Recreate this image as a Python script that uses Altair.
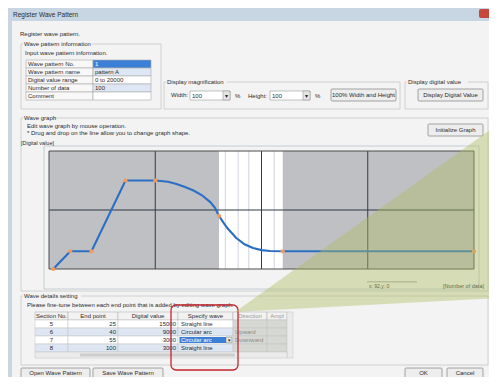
import altair as alt
import pandas as pd

# ---------------- data ----------------
wave_x = [1, 5, 10, 18, 25, 28, 30, 32, 34, 36, 38, 39, 40, 41, 42, 44, 46, 48, 50, 52, 55, 100]
wave_y = [0, 3000, 3000, 15000, 15000, 14800, 14400, 13900, 13300, 12500, 11300, 10400, 9000,
          7900, 6900, 5300, 4200, 3550, 3200, 3050, 3000, 3000]
node_x = [1, 5, 10, 18, 25, 40, 55, 100]
node_y = [0, 3000, 3000, 15000, 15000, 9000, 3000, 3000]
x_ticks = [0, 25, 50, 75, 100]
y_ticks = [0, 10000, 20000]
grid_x = [25, 50, 75]
grid_y = [10000]
band_start = [40]
band_end = [55]
band_stripes = [41.5, 44.5, 47, 53]

info_labels = ["Wave pattern No.", "Wave pattern name", "Digital value range", "Number of data", "Comment"]
info_values = ["1", "pattern A", "0 to 20000", "100", ""]

table_headers = ["Section No.", "End point", "Digital value", "Specify wave", "Direction", "Ampl"]
section_no = [5, 6, 7, 8]
end_point = [25, 40, 55, 100]
digital_value = [15000, 9000, 3000, 3000]
specify_wave = ["Straight line", "Circular arc", "Circular arc", "Straight line"]
direction = ["", "Upward", "Downward", ""]

# ---------------- layout helpers ----------------
FONT = "Liberation Sans"
OX, OY = 49, 151          # page position of the plot area's top-left corner
W, H = 425, 118
PANEL = "#f3f3f3"
one = alt.Data(values=[{"k": 1}])
deco = []


def box(x0, y0, x1, y1, fill=None, stroke=None, sw=1.0, r=0, op=1.0):
    kw = {"cornerRadius": r, "opacity": op}
    if fill is None:
        kw["fill"] = "#ffffff"
        kw["fillOpacity"] = 0
    else:
        kw["fill"] = fill
    if stroke:
        kw["stroke"] = stroke
        kw["strokeWidth"] = sw
    else:
        kw["strokeWidth"] = 0
    return alt.Chart(one).mark_rect(**kw).encode(
        x=alt.value(x0 - OX), x2=alt.value(x1 - OX),
        y=alt.value(y0 - OY), y2=alt.value(y1 - OY))


def txt(s, x, y, size=6, color="#2b2b2b", align="left", weight="normal"):
    return alt.Chart(one).mark_text(
        text=s, font=FONT, fontSize=size, color=color, align=align,
        baseline="middle", fontWeight=weight).encode(
        x=alt.value(x - OX), y=alt.value(y - OY))


def group(x0, y0, x1, y1, label):
    return [box(x0, y0, x1, y1, stroke="#c6c6c6", sw=0.8),
            box(x0 + 2, y0 - 3, x0 + 5 + len(label) * 2.75, y0 + 3, fill=PANEL),
            txt(label, x0 + 3, y0)]


def button(x0, y0, x1, y1, label):
    return [box(x0, y0, x1, y1, fill="#ededed", stroke="#8e8e8e", sw=0.8, r=1),
            txt(label, (x0 + x1) / 2, (y0 + y1) / 2, align="center")]


# dialog body and title bar
deco.append(box(12, 21, 497, 385, fill=PANEL))
deco.append(box(8, 8, 497, 21, fill="#c8d6e3"))
deco.append(box(479, 9, 497, 18, fill="#c9463d", r=2))
deco.append(txt("Register Wave Pattern", 13, 14.5, size=6.5))
deco.append(txt("Register wave pattern.", 20, 34))

# wave pattern information
deco += group(21, 44, 161, 109, "Wave pattern information")
deco.append(txt("Input wave pattern information.", 25, 53))
value_fills = ["#3b7fd6", "#dde7f4", "#ffffff", "#dde7f4", "#ffffff"]
for i, (lab, val) in enumerate(zip(info_labels, info_values)):
    y0 = 60 + 8 * i
    deco.append(box(26, y0, 93, y0 + 8, fill="#f8f8f8", stroke="#a8a8a8", sw=0.6))
    deco.append(box(93, y0, 151, y0 + 8, fill=value_fills[i], stroke="#a8a8a8", sw=0.6))
    deco.append(txt(lab, 28, y0 + 4))
    if val:
        deco.append(txt(val, 95, y0 + 4, color="#ffffff" if i == 0 else "#2b2b2b"))

# display magnification
deco += group(164, 82, 400, 109, "Display magnification")
deco.append(txt("Width:", 171, 95))
deco.append(box(190, 91, 230, 100, fill="#ffffff", stroke="#9a9a9a", sw=0.6))
deco.append(box(223, 91, 230, 100, fill="#e4e4e4", stroke="#9a9a9a", sw=0.6))
deco.append(txt("▾", 226.5, 95.5, align="center", size=6))
deco.append(txt("100", 192, 95.5))
deco.append(txt("%", 235, 95.5))
deco.append(txt("Height:", 248, 95.5))
deco.append(box(270, 91, 310, 100, fill="#ffffff", stroke="#9a9a9a", sw=0.6))
deco.append(box(303, 91, 310, 100, fill="#e4e4e4", stroke="#9a9a9a", sw=0.6))
deco.append(txt("▾", 306.5, 95.5, align="center", size=6))
deco.append(txt("100", 272, 95.5))
deco.append(txt("%", 315, 95.5))
deco += button(331, 89, 396, 101, "100% Width and Height")

# display digital value
deco += group(405, 82, 488, 109, "Display digital value")
deco += button(418, 89, 483, 101, "Display Digital Value")

# wave graph group
deco += group(21, 118, 488, 291, "Wave graph")
deco.append(txt("Edit wave graph by mouse operation.", 27, 126))
deco.append(txt("* Drug and drop on the line allow you to change graph shape.", 27, 133))
deco += button(428, 124, 483, 136, "Initialize Graph")
deco.append(box(44, 146, 479, 289, stroke="#b7c3cc", sw=0.8))
deco.append(txt("[Digital value]", 21, 143, size=5.5))
deco.append(txt("[Number of data]", 443, 286, size=5.5))
deco.append(box(367, 281.5, 417, 282.3, fill="#8a8a8a"))
deco.append(txt("x:    92.y:    0", 369, 286, size=5))

# wave details setting
deco += group(21, 296, 488, 365, "Wave details setting")
deco.append(txt("Please fine-tune between each end point that is added by editing wave graph.", 27, 305))
cols = [35, 68, 118, 178, 233, 267, 287]
for j, head in enumerate(table_headers):
    deco.append(box(cols[j], 312, cols[j + 1], 320, fill="#f2f2f2", stroke="#b5b5b5", sw=0.6))
    deco.append(txt(head, (cols[j] + cols[j + 1]) / 2, 316, align="center",
                    color="#999999" if j >= 4 else "#2b2b2b"))
row_fills = ["#ffffff", "#dde6f2", "#ffffff", "#dde6f2"]
for i in range(len(section_no)):
    y0 = 320 + 8 * i
    for j in range(6):
        f = "#d6d9d3" if j >= 4 else row_fills[i]
        deco.append(box(cols[j], y0, cols[j + 1], y0 + 8, fill=f, stroke="#c0c0c0", sw=0.5))
    deco.append(txt(str(section_no[i]), 51.5, y0 + 4, align="center"))
    deco.append(txt(str(end_point[i]), 116, y0 + 4, align="right"))
    deco.append(txt(str(digital_value[i]), 176, y0 + 4, align="right"))
    if i == 2:
        deco.append(box(179.5, y0 + 1, 226, y0 + 7, fill="#3b7fd6"))
        deco.append(box(226, y0 + 1, 232, y0 + 7, fill="#e6e6e6", stroke="#777777", sw=0.5))
        deco.append(txt("▾", 229, y0 + 4.3, align="center", size=5))
        deco.append(txt(specify_wave[i], 181, y0 + 4, color="#ffffff"))
    else:
        deco.append(txt(specify_wave[i], 181, y0 + 4))
    if direction[i]:
        deco.append(txt(direction[i], 235, y0 + 4, color="#8a8a8a"))
deco.append(box(287, 312, 293, 358, fill="#ebebeb", stroke="#c0c0c0", sw=0.5))
deco.append(box(35, 352, 287, 358, fill="#ebebeb", stroke="#c0c0c0", sw=0.5))
deco.append(box(80, 353.5, 235, 356.5, fill="#cdcdcd", r=1))
deco.append(box(171, 305, 238, 370, stroke="#c4262e", sw=1.3, r=5))

deco += button(21, 368, 90, 378, "Open Wave Pattern")
deco += button(93, 368, 163, 378, "Save Wave Pattern")
deco += button(405, 368, 442, 378, "OK")
deco += button(447, 368, 483, 378, "Cancel")

# ---------------- the wave graph ----------------
xs = alt.Scale(domain=[0, 100], nice=False, zero=False)
ys = alt.Scale(domain=[0, 20000], nice=False)
x_axis = alt.Axis(values=x_ticks, grid=False, domain=False, ticks=False, title=None,
                  labelFontSize=5.5, labelColor="#333333", labelFont=FONT, labelPadding=5,
                  labelFlush=False, zindex=1)
y_axis = alt.Axis(values=y_ticks, grid=False, domain=False, ticks=False, title=None,
                  labelFontSize=5.5, labelColor="#333333", labelFont=FONT, labelPadding=3,
                  labelFlush=False, zindex=1)

wave_df = pd.DataFrame({"x": wave_x, "y": wave_y})
node_df = pd.DataFrame({"x": node_x, "y": node_y})
band_df = pd.DataFrame({"x": band_start, "x2": band_end})

plot_bg = box(OX, OY, OX + W, OY + H, fill="#bfc0c4")
band = alt.Chart(band_df).mark_rect(fill="#ffffff").encode(
    x=alt.X("x:Q", scale=xs, axis=None), x2="x2:Q", y=alt.value(0), y2=alt.value(H))
stripes = alt.Chart(pd.DataFrame({"x": band_stripes})).mark_rule(
    color="#d9dae4", strokeWidth=1.2).encode(x=alt.X("x:Q", scale=xs, axis=None))
vgrid = alt.Chart(pd.DataFrame({"x": grid_x})).mark_rule(
    color="#3a3a3a", strokeWidth=1).encode(x=alt.X("x:Q", scale=xs, axis=None))
hgrid = alt.Chart(pd.DataFrame({"y": grid_y})).mark_rule(
    color="#2f3b40", strokeWidth=1).encode(y=alt.Y("y:Q", scale=ys, axis=None))
border = box(OX, OY, OX + W, OY + H, stroke="#4a4a4a", sw=1)
line = alt.Chart(wave_df).mark_line(color="#2a6fc4", strokeWidth=2.1, interpolate="linear").encode(
    x=alt.X("x:Q", scale=xs, axis=x_axis), y=alt.Y("y:Q", scale=ys, axis=y_axis), order="x:Q")
nodes = alt.Chart(node_df).mark_circle(color="#f39a5e", size=18, opacity=1).encode(
    x=alt.X("x:Q", scale=xs, axis=None), y=alt.Y("y:Q", scale=ys, axis=None))

# translucent green wedge overlay (decoration of the screenshot)
wedge = alt.Chart(one).mark_point(
    shape="M186,161 L448,-26 L448,147 Z", size=4, filled=True,
    fill="#aebd62", opacity=0.42, strokeWidth=0).encode(x=alt.value(0), y=alt.value(0))

chart = alt.layer(
    *deco, plot_bg, band, stripes, vgrid, hgrid, border, line, nodes, wedge
).properties(
    width=W, height=H,
    padding={"left": OX - 8, "top": OY - 8, "right": 481 - (OX - 8) - W, "bottom": 369 - (OY - 8) - H},
    autosize=alt.AutoSizeParams(type="none"),
    background="#c9d6e2",
).configure_view(stroke=None)

chart.save("out.html", embed_options={"renderer": "svg", "actions": False})
